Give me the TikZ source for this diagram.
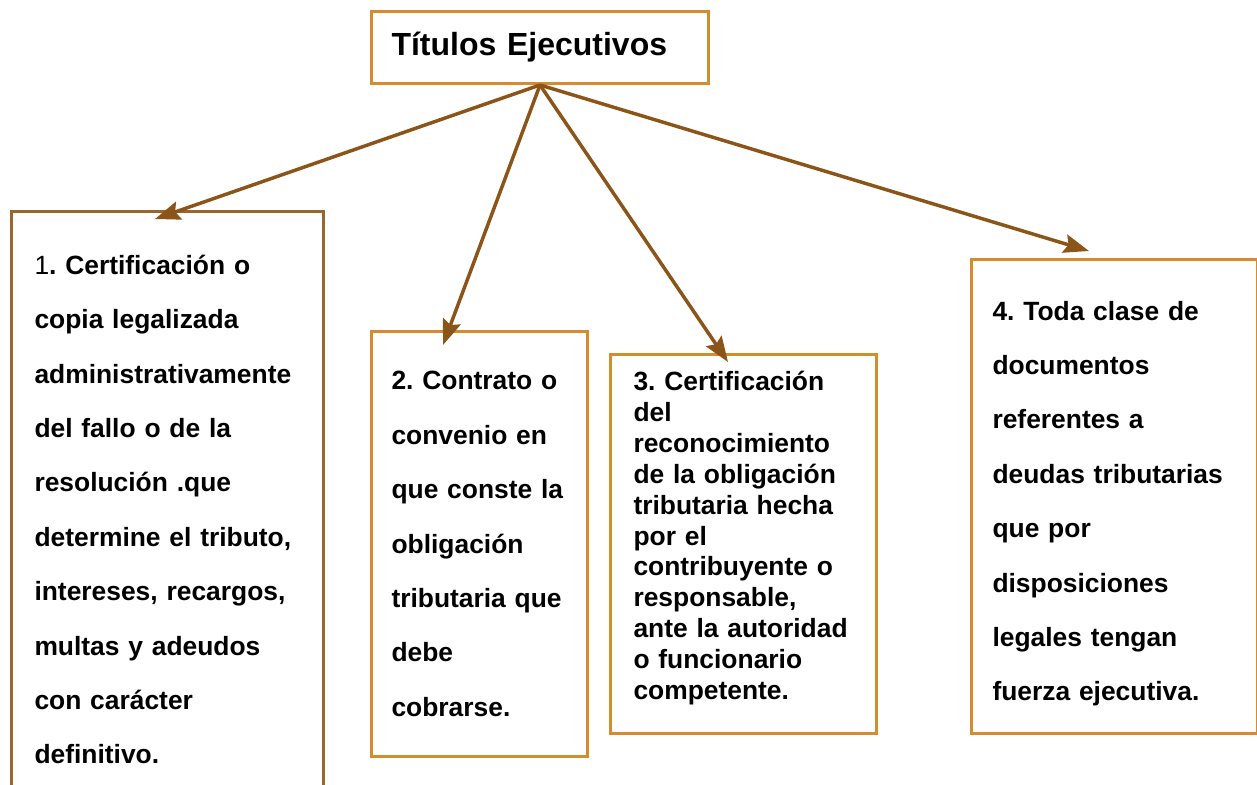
\documentclass[tikz,border=0pt]{standalone}
\usepackage{fontspec}
\setmainfont{Liberation Sans}
\usetikzlibrary{arrows.meta, positioning, calc}

\definecolor{boxorange}{RGB}{211,141,46}
\definecolor{boxbrown}{RGB}{156,101,46}
\definecolor{arrowbrown}{RGB}{139,84,24}

\begin{document}
\frenchspacing
\begin{tikzpicture}[x=0.75pt, y=-0.75pt,
    box/.style={draw=boxorange, line width=2.25pt, rectangle, anchor=north west, align=left, font=\fontsize{19.8}{40.8}\selectfont\bfseries},
    link/.style={draw=arrowbrown, line width=2.6pt, -{Stealth[length=19pt, width=14pt, inset=3pt]}}]
    \useasboundingbox (0,0) rectangle (1257,785);
    % Nodes
    \node (title) [box, minimum width=252.75pt, minimum height=54pt, text width=222.75pt, inner xsep=15pt, font=\fontsize{24}{28}\selectfont\bfseries] at (370,10) {Títulos Ejecutivos};
    \node (cert) [box, draw=boxbrown, minimum width=234pt, minimum height=447pt, text width=199.5pt, inner xsep=17.25pt] at (10,210) {{\mdseries 1}. Certificación o\\copia legalizada\\administrativamente\\del fallo o de la\\resolución .que\\determine el tributo,\\intereses, recargos,\\multas y adeudos\\con carácter\\definitivo.};
    \node (contrato) [box, minimum width=162pt, minimum height=318.75pt, text width=132pt, inner xsep=15pt] at (370,330) {2. Contrato o\\convenio en\\que conste la\\obligación\\tributaria que\\debe\\cobrarse.};
    \node (reconoc) [box, minimum width=199.5pt, minimum height=284.25pt, text width=165pt, inner xsep=17.25pt, font=\fontsize{19.8}{23.2}\selectfont\bfseries] at (609,353) {3. Certificación\\del\\reconocimiento\\de la obligación\\tributaria hecha\\por el\\contribuyente o\\responsable,\\ante la autoridad\\o funcionario\\competente.\rule[-13pt]{0pt}{0pt}};
    \node (docs) [box, minimum width=214.5pt, minimum height=355.5pt, text width=183pt, inner xsep=15.75pt] at (970,258) {\rule{0pt}{25pt}4. Toda clase de\\documentos\\referentes a\\deudas tributarias\\que por\\disposiciones\\legales tengan\\fuerza ejecutiva.};
    % Arrow tips
    \coordinate (tipcert) at (155,219);
    \coordinate (tipcontrato) at (443,345);
    \coordinate (tipreconoc) at (728,362);
    \coordinate (tipdocs) at (1089,251);
    % Arrows
    \draw[link] (title.south) -- (tipcert);
    \draw[link] (title.south) -- (tipcontrato);
    \draw[link] (title.south) -- (tipreconoc);
    \draw[link] (title.south) -- (tipdocs);
\end{tikzpicture}
\end{document}
